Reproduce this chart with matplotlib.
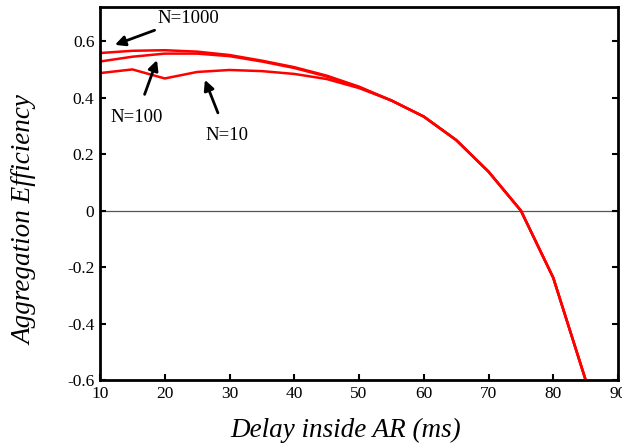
import matplotlib
matplotlib.use("Agg")
import matplotlib.pyplot as plt

# delay inside AR (ms)
delay = [10, 15, 20, 25, 30, 35, 40, 45, 50, 55, 60, 65, 70, 75, 80, 85]

# aggregation efficiency for each N
eff_n1000 = [0.558, 0.566, 0.568, 0.563, 0.551, 0.531, 0.508, 0.478, 0.439,
             0.390, 0.333, 0.250, 0.138, 0.000, -0.238, -0.600]
eff_n100 = [0.528, 0.545, 0.556, 0.556, 0.547, 0.528, 0.505, 0.475, 0.437,
            0.390, 0.333, 0.250, 0.138, 0.000, -0.238, -0.600]
eff_n10 = [0.487, 0.500, 0.468, 0.491, 0.498, 0.494, 0.484, 0.466, 0.434,
           0.390, 0.333, 0.250, 0.138, 0.000, -0.238, -0.600]

plt.rcParams['font.family'] = ['Liberation Serif', 'DejaVu Serif']

fig = plt.figure(figsize=(6.22, 4.45), dpi=100)
ax = fig.add_axes([0.1608, 0.146, 0.8328, 0.8376])

for vals in (eff_n1000, eff_n100, eff_n10):
    ax.plot(delay, vals, color='red', lw=1.8, solid_joinstyle='miter')

ax.axhline(0, color='#555555', lw=0.9, zorder=1)

ax.set_xlim(10, 90)
ax.set_ylim(-0.6, 0.72)
ax.set_xticks(range(10, 91, 10))
ax.set_yticks([-0.6, -0.4, -0.2, 0, 0.2, 0.4, 0.6])
ax.set_yticklabels(['-0.6', '-0.4', '-0.2', '0', '0.2', '0.4', '0.6'])
ax.tick_params(direction='in', length=4, width=1.5, labelsize=12.5,
               right=True, top=False)
ax.tick_params(axis='x', pad=4)
ax.tick_params(axis='y', pad=4)
for s in ax.spines.values():
    s.set_linewidth(2)

ax.set_xlabel('Delay inside AR (ms)', fontsize=19.5, style='italic', va='center')
ax.set_ylabel('Aggregation Efficiency', fontsize=19.5, style='italic', va='center')
ax.xaxis.set_label_coords(0.475, -0.134)
ax.yaxis.set_label_coords(-0.145, 0.429)

# annotations
arrow = dict(arrowstyle='-|>', color='black', lw=2, mutation_scale=15)
ax.annotate('N=1000', xy=(12.3, 0.587), xytext=(18.8, 0.682), fontsize=13.5,
            ha='left', va='center', arrowprops=dict(arrow, shrinkA=2, shrinkB=0))
ax.annotate('N=100', xy=(18.8, 0.533), xytext=(15.6, 0.33), fontsize=13.5,
            ha='center', va='center', arrowprops=dict(arrow, shrinkA=9, shrinkB=0))
ax.annotate('N=10', xy=(26.2, 0.463), xytext=(29.6, 0.265), fontsize=13.5,
            ha='center', va='center', arrowprops=dict(arrow, shrinkA=9, shrinkB=0))

fig.savefig('out.png', dpi=100)
